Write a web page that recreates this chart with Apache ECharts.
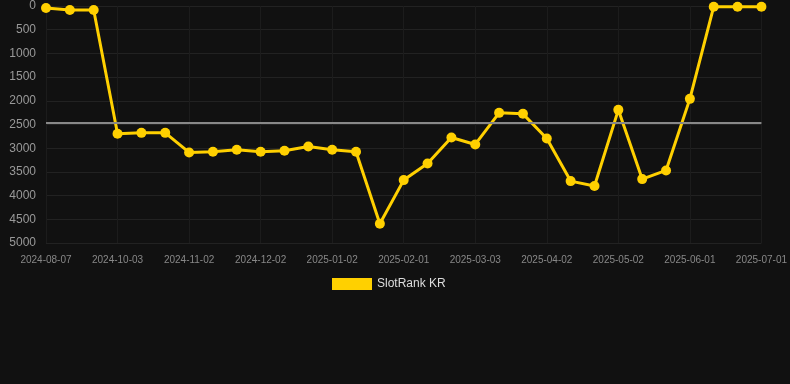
<!DOCTYPE html>
<html><head><meta charset="utf-8">
<script src="https://cdn.jsdelivr.net/npm/echarts@6/dist/echarts.min.js"></script>
<style>html,body{margin:0;padding:0;background:#111111;}#c{width:790px;height:384px;}</style>
</head><body><div id="c"></div>
<script>
const categories = ["2024-08-07","2024-08-17","2024-08-27","2024-10-03","2024-10-13","2024-10-23","2024-11-02","2024-11-12","2024-11-22","2024-12-02","2024-12-12","2024-12-22","2025-01-02","2025-01-12","2025-01-22","2025-02-01","2025-02-11","2025-02-21","2025-03-03","2025-03-13","2025-03-23","2025-04-02","2025-04-12","2025-04-22","2025-05-02","2025-05-12","2025-05-22","2025-06-01","2025-06-11","2025-06-21","2025-07-01"];
const rankValues = [42,84,84,2697,2676,2676,3090,3076,3034,3076,3055,2963,3034,3076,4593,3673,3322,2774,2921,2254,2275,2795,3694,3799,2191,3652,3469,1959,14,14,14];
const seriesName = "SlotRank KR";

const chart = echarts.init(document.getElementById('c'));
chart.setOption({
  backgroundColor: '#111111',
  animation: false,
  grid: {left: 46, right: 28, top: 6, bottom: 141, containLabel: false},
  legend: {
    top: 273, left: 327,
    itemWidth: 40, itemHeight: 12, itemGap: 10,
    icon: 'rect',
    textStyle: {color: '#dddddd', fontSize: 12, fontFamily: 'Liberation Sans, Arial, sans-serif'},
    data: [seriesName]
  },
  xAxis: {
    type: 'category', data: categories, boundaryGap: false,
    axisLine: {show: false}, axisTick: {show: false},
    axisLabel: {interval: 2, color: '#888888', fontSize: 10, margin: 12, fontFamily: 'Liberation Sans, Arial, sans-serif'},
    splitLine: {show: true, interval: 2, lineStyle: {color: '#1c1c1c'}}
  },
  yAxis: {
    type: 'value', inverse: true, min: 0, max: 5000, interval: 500,
    axisLine: {show: false}, axisTick: {show: false},
    axisLabel: {color: '#999999', fontSize: 12, margin: 10, fontFamily: 'Liberation Sans, Arial, sans-serif',
      formatter: function (v) { return String(v); }},
    splitLine: {lineStyle: {color: '#222222'}}
  },
  series: [{
    name: seriesName, type: 'line', data: rankValues,
    color: '#ffd000',
    symbol: 'circle', symbolSize: 10,
    lineStyle: {width: 3, color: '#ffd000'},
    itemStyle: {color: '#ffd000'},
    markLine: {
      silent: true, symbol: 'none', label: {show: false},
      lineStyle: {color: '#888888', type: 'solid', width: 2},
      data: [{type: 'average'}]
    }
  }]
});
</script></body></html>
